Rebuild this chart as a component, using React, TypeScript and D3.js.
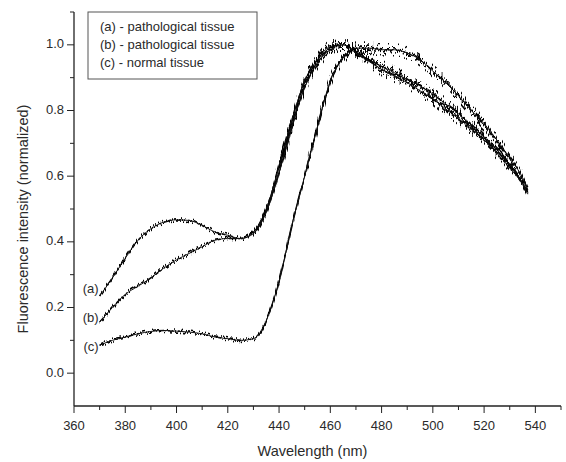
import React from "react";
import * as d3 from "d3";

// wavelengths (nm) shared by all three spectra
const wavelengths = [
  370, 375, 380, 385, 390, 395, 400, 405, 410, 415, 420, 425, 430, 435, 440,
  445, 450, 455, 460, 465, 470, 475, 480, 485, 490, 495, 500, 505, 510, 515,
  520, 525, 530, 535, 537,
];

// (a) pathological tissue
const seriesA = [
  0.235, 0.29, 0.35, 0.405, 0.44, 0.46, 0.467, 0.465, 0.45, 0.43, 0.42, 0.41,
  0.43, 0.5, 0.63, 0.77, 0.89, 0.955, 0.995, 1.0, 0.98, 0.955, 0.935, 0.915,
  0.895, 0.875, 0.85, 0.82, 0.79, 0.755, 0.72, 0.68, 0.635, 0.58, 0.55,
];

// (b) pathological tissue
const seriesB = [
  0.155, 0.2, 0.24, 0.265, 0.29, 0.32, 0.345, 0.365, 0.385, 0.405, 0.41, 0.41,
  0.425, 0.49, 0.61, 0.75, 0.87, 0.945, 0.985, 1.0, 0.975, 0.95, 0.925, 0.905,
  0.885, 0.86, 0.835, 0.805, 0.775, 0.745, 0.71, 0.67, 0.625, 0.575, 0.545,
];

// (c) normal tissue
const seriesC = [
  0.085, 0.1, 0.11, 0.12, 0.127, 0.13, 0.128, 0.125, 0.12, 0.11, 0.105, 0.1,
  0.105, 0.16, 0.28, 0.45, 0.6, 0.75, 0.89, 0.96, 0.99, 0.99, 0.985, 0.985,
  0.975, 0.955, 0.92, 0.885, 0.845, 0.8, 0.76, 0.71, 0.655, 0.595, 0.56,
];

const curveLabels = ["(a)", "(b)", "(c)"];
const legendLines = [
  "(a) - pathological tissue",
  "(b) - pathological tissue",
  "(c) - normal tissue",
];

const xMajor = [360, 380, 400, 420, 440, 460, 480, 500, 520, 540];
const xMinor = [370, 390, 410, 430, 450, 470, 490, 510, 530, 550];
const yMajor = [0.0, 0.2, 0.4, 0.6, 0.8, 1.0];
const yMinor = [0.1, 0.3, 0.5, 0.7, 0.9, 1.1];

const W = 566;
const H = 462;
const margin = { top: 12, right: 5, bottom: 56, left: 74 };
const font = "Arial, 'Liberation Sans', sans-serif";
const textColor = "#2a2a2a";

// measurement-noise texture (render effect only, data untouched)
const NoiseFilter = ({ id, scale, seed }: { id: string; scale: number; seed: number }) => (
  <filter id={id} x="-5%" y="-10%" width="110%" height="120%">
    <feTurbulence
      type="fractalNoise"
      baseFrequency="1.1 0.05"
      numOctaves="2"
      seed={seed}
      result="t"
    />
    <feColorMatrix
      in="t"
      type="matrix"
      values="3.2 0 0 0 -1.1  0 0 0 0 0.5  0 0 1 0 0  0 0 0 0 1"
      result="m"
    />
    <feDisplacementMap
      in="SourceGraphic"
      in2="m"
      scale={scale}
      xChannelSelector="G"
      yChannelSelector="R"
    />
  </filter>
);

export default function App() {
  const x = d3
    .scaleLinear()
    .domain([360, 550])
    .range([margin.left, W - margin.right]);
  const y = d3
    .scaleLinear()
    .domain([-0.1, 1.1])
    .range([H - margin.bottom, margin.top]);

  const line = d3
    .line<number>()
    .x((_, i) => x(wavelengths[i]))
    .y((d) => y(d))
    .curve(d3.curveMonotoneX);

  const series = [seriesA, seriesB, seriesC];
  const labelDy = [-6, -4, 2];
  const x0 = x.range()[0];
  const yBase = y.range()[0];

  return (
    <svg
      width={W}
      height={H}
      style={{ position: "absolute", left: 0, top: 0, background: "#fff" }}
      fontFamily={font}
    >
      <defs>
        <NoiseFilter id="jitterLow" scale={4} seed={4} />
        <NoiseFilter id="jitterHigh" scale={12} seed={7} />
        <clipPath id="upper">
          <rect x={x0} y={y(1.1)} width={x(550) - x0} height={y(0.62) - y(1.1)} />
        </clipPath>
      </defs>

      {/* spectra */}
      {series.map((s, i) => (
        <g key={i}>
          <path
            d={line(s) || ""}
            fill="none"
            stroke="#000"
            strokeWidth={1.6}
            filter="url(#jitterLow)"
          />
          <g clipPath="url(#upper)">
            <path
              d={line(s) || ""}
              fill="none"
              stroke="#000"
              strokeWidth={1.6}
              filter="url(#jitterHigh)"
            />
          </g>
          <path d={line(s) || ""} fill="none" stroke="#111" strokeWidth={1} />
        </g>
      ))}

      {/* curve labels */}
      {series.map((s, i) => (
        <text
          key={curveLabels[i]}
          x={x(wavelengths[0]) - 1}
          y={y(s[0]) + labelDy[i]}
          textAnchor="end"
          dominantBaseline="middle"
          fontSize={13}
          fill={textColor}
        >
          {curveLabels[i]}
        </text>
      ))}

      {/* axes */}
      <line x1={x0} x2={x(550)} y1={yBase} y2={yBase} stroke="#222" strokeWidth={1.3} />
      <line x1={x0} x2={x0} y1={y(1.1)} y2={yBase} stroke="#222" strokeWidth={1.3} />

      {xMajor.map((t) => (
        <g key={"xm" + t}>
          <line x1={x(t)} x2={x(t)} y1={yBase} y2={yBase + 7} stroke="#222" />
          <text
            x={x(t)}
            y={yBase + 21}
            textAnchor="middle"
            dominantBaseline="middle"
            fontSize={13}
            fill={textColor}
          >
            {t}
          </text>
        </g>
      ))}
      {xMinor.map((t) => (
        <line key={"xn" + t} x1={x(t)} x2={x(t)} y1={yBase} y2={yBase + 4} stroke="#222" />
      ))}

      {yMajor.map((t) => (
        <g key={"ym" + t}>
          <line x1={x0 - 7} x2={x0} y1={y(t)} y2={y(t)} stroke="#222" />
          <text
            x={x0 - 10}
            y={y(t)}
            textAnchor="end"
            dominantBaseline="middle"
            fontSize={13}
            fill={textColor}
          >
            {d3.format(".1f")(t)}
          </text>
        </g>
      ))}
      {yMinor.map((t) => (
        <line key={"yn" + t} x1={x0 - 4} x2={x0} y1={y(t)} y2={y(t)} stroke="#222" />
      ))}

      {/* axis titles */}
      <text
        x={(x0 + x(550)) / 2 - 5}
        y={452}
        textAnchor="middle"
        dominantBaseline="middle"
        fontSize={14.5}
        fill={textColor}
      >
        Wavelength (nm)
      </text>
      <text
        transform={`translate(24,${(y(1.1) + yBase) / 2 + 10}) rotate(-90)`}
        textAnchor="middle"
        dominantBaseline="middle"
        fontSize={14.5}
        fill={textColor}
      >
        Fluorescence intensity (normalized)
      </text>

      {/* legend */}
      <rect x={88} y={12} width={169} height={67} fill="#fff" stroke="#555" strokeWidth={1} />
      {legendLines.map((l, i) => (
        <text
          key={l}
          x={100}
          y={28 + i * 18}
          dominantBaseline="middle"
          fontSize={13}
          fill={textColor}
        >
          {l}
        </text>
      ))}
    </svg>
  );
}
